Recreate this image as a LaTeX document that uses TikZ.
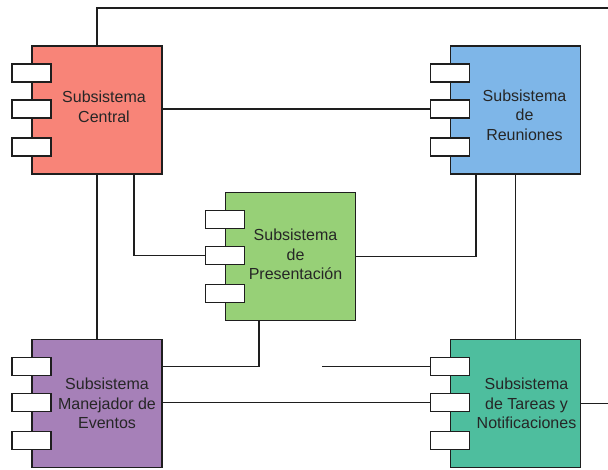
\documentclass[tikz,border=0pt]{standalone}
\usepackage{fontspec}
\setmainfont{Liberation Sans}
\usepackage{tikz}
\usetikzlibrary{positioning}

\definecolor{centralred}{RGB}{248,132,120}
\definecolor{reunionblue}{RGB}{126,182,232}
\definecolor{presgreen}{RGB}{151,208,119}
\definecolor{eventpurple}{RGB}{166,128,184}
\definecolor{tareateal}{RGB}{78,190,158}
\definecolor{edgegray}{RGB}{30,30,30}

\begin{document}
\begin{tikzpicture}[x=1pt, y=-1pt, line width=1.4pt, draw=edgegray,
    compbox/.style = {shape=rectangle, draw=edgegray, minimum width=130pt, minimum height=128pt, inner sep=0pt},
    port/.style = {shape=rectangle, draw=edgegray, fill=white, minimum width=39pt, minimum height=18pt, inner sep=0pt},
    comptext/.style = {align=center, inner sep=0pt, text=black!85, font=\fontsize{16}{19.5}\selectfont}]
            \useasboundingbox (0,0) rectangle (608,470);

            % components
            \node[compbox, fill=centralred] (central) at (97,110) {};
            \node[compbox, fill=reunionblue] (reu) at (515.5,110) {};
            \node[compbox, fill=presgreen] (pres) at (290.5,256.5) {};
            \node[compbox, fill=eventpurple] (eve) at (97,403.5) {};
            \node[compbox, fill=tareateal] (tar) at (515.5,403.5) {};

            % ports on the left side
            \foreach \b in {central, reu, pres, eve, tar} {
                \node[port] (\b-p1) at ([yshift=37pt]\b.west) {};
                \node[port] (\b-p2) at ([yshift=1pt]\b.west) {};
                \node[port] (\b-p3) at ([yshift=-37pt]\b.west) {};
            }

            % names
            \node[comptext] (central-txt) at ([xshift=7pt, yshift=3pt]central.center) {Subsistema\\Central};
            \node[comptext] (reu-txt) at ([xshift=9pt, yshift=-5pt]reu.center) {Subsistema\\de\\Reuniones};
            \node[comptext] (pres-txt) at ([xshift=5pt, yshift=2pt]pres.center) {Subsistema\\de\\Presentación};
            \node[comptext] (eve-txt) at ([xshift=10pt]eve.center) {Subsistema\\Manejador de\\Eventos};
            \node[comptext] (tar-txt) at ([xshift=11pt]tar.center) {Subsistema\\de Tareas y\\Notificaciones};

            % free ends
            \coordinate (topright) at (608,8);
            \coordinate (rightend) at (608,403.5);
            \coordinate (loose) at (322,366.5);

            % connectors
            \draw (central.north) |- (topright);
            \draw (central.east |- reu-p2.west) -- (reu-p2.west);
            \draw ([xshift=37pt]central.south) |- (pres-p2.west);
            \draw (central.south) -- (eve.north);
            \draw ([xshift=-39.5pt]reu.south) |- (pres.east);
            \draw (reu.south) -- (tar.north);
            \draw ([xshift=-31.5pt]pres.south) |- (eve.east |- eve-p1.west);
            \draw (eve.east |- tar-p2.west) -- (tar-p2.west);
            \draw (loose) -- (tar-p1.west);
            \draw (tar.east) -- (rightend);
        \end{tikzpicture}
\end{document}
